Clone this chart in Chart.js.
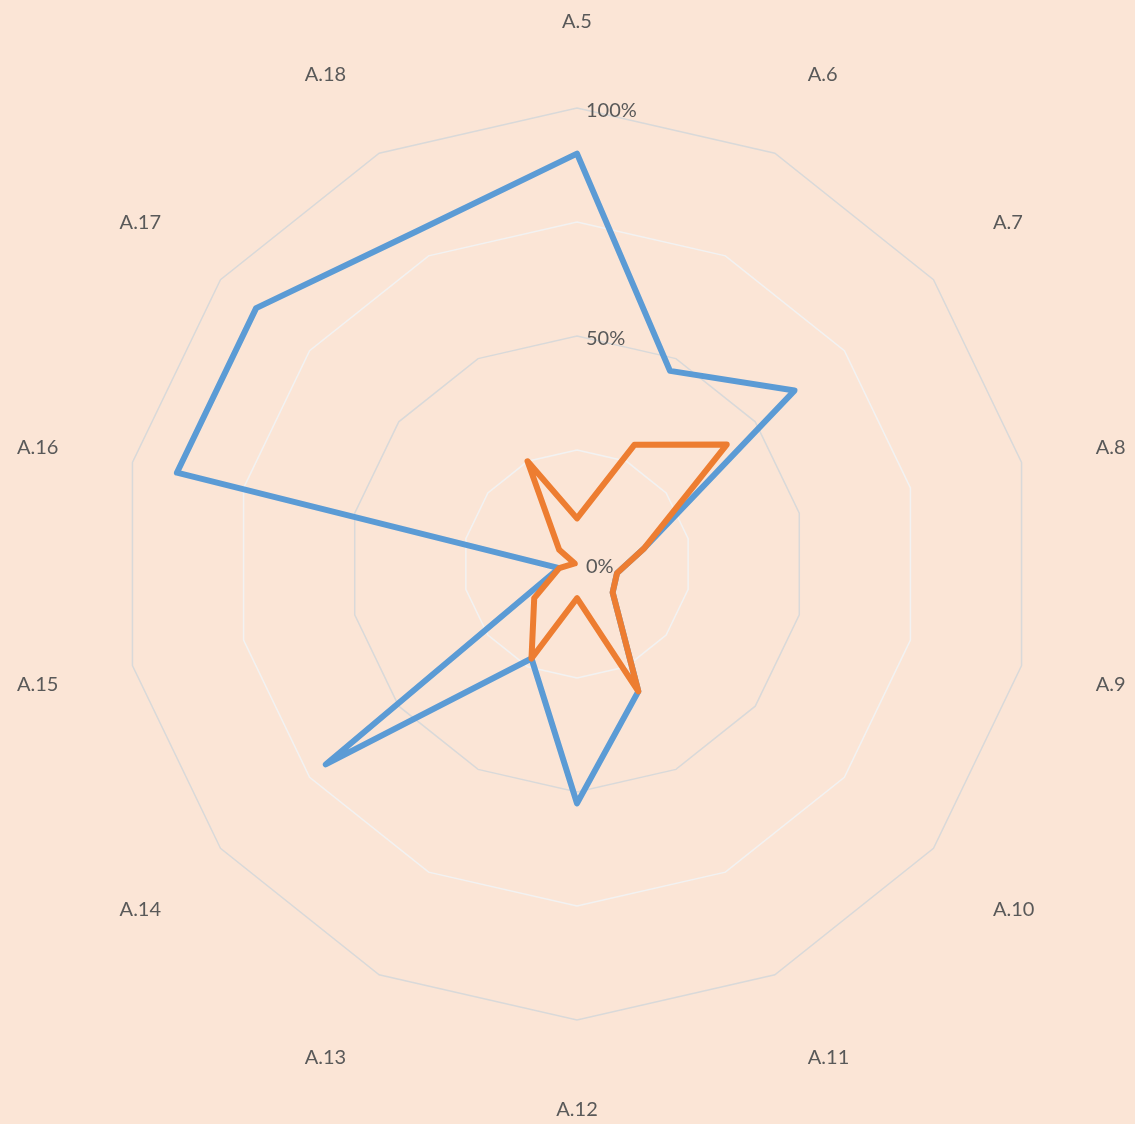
<!DOCTYPE html>
<html lang="en">

<head>
    <meta charset="UTF-8">
    <title>A.5 - A.18 radar</title>
    <script src="https://cdn.jsdelivr.net/npm/chart.js"></script>
    <style>
        * {
            margin: 0;
            padding: 0;
            box-sizing: border-box;
        }

        body {
            background: #FBE5D6;
            overflow: hidden;
        }

        canvas {
            display: block;
        }
    </style>
</head>

<body>

    <canvas id="radar" width="1135" height="1124"></canvas>

    <script>
        // values in percent
        const categories = ['A.5', 'A.6', 'A.7', 'A.8', 'A.9', 'A.10', 'A.11', 'A.12', 'A.13', 'A.14', 'A.15', 'A.16', 'A.17', 'A.18'];
        const blueValues = [90, 47, 61, 15, 9, 10, 31, 52.5, 23, 70.5, 4, 90, 90, 81];
        const orangeValues = [10, 29, 42, 15, 9, 10, 31, 7.5, 23, 12, 4, 0.5, 5, 25];
        const labelledTicks = [0, 50, 100];

        const textColor = '#595959';
        const labelFont = '20px Lato';

        // Excel-style labels: values right of the axis, category names outside the rings
        const excelLabels = {
            id: 'excelLabels',
            afterDatasetsDraw(chart) {
                const r = chart.scales.r;
                const ctx = chart.ctx;
                ctx.save();
                ctx.font = labelFont;
                ctx.fillStyle = textColor;
                ctx.textBaseline = 'middle';

                ctx.textAlign = 'left';
                labelledTicks.forEach(v => {
                    ctx.fillText(v + '%', r.xCenter + 9, r.yCenter - r.getDistanceFromCenterForValue(v) + 3);
                });

                // label box sits just outside the point, pushed away by half its size
                ctx.textAlign = 'center';
                categories.forEach((name, i) => {
                    const p = r.getPointPosition(i, r.drawingArea + 76);
                    const w = ctx.measureText(name).width;
                    const cx = Math.cos(p.angle), sy = Math.sin(p.angle);
                    const dx = Math.abs(cx) < 1e-6 ? 0 : Math.sign(cx) * w / 2;
                    const dy = Math.abs(sy) < 0.5 ? 0 : Math.sign(sy) * 12;
                    ctx.fillText(name, p.x + dx, p.y + dy + 2);
                });
                ctx.restore();
            }
        };

        new Chart(document.getElementById('radar'), {
            type: 'radar',
            data: {
                labels: categories,
                datasets: [
                    {
                        label: 'Series 1', data: blueValues, borderColor: '#5B9BD5', borderWidth: 6,
                        borderJoinStyle: 'round', borderCapStyle: 'round', fill: false, order: 1
                    },
                    {
                        label: 'Series 2', data: orangeValues, borderColor: '#ED7D31', borderWidth: 6,
                        borderJoinStyle: 'round', borderCapStyle: 'round', fill: false, order: 0
                    }
                ]
            },
            options: {
                responsive: false,
                animation: false,
                devicePixelRatio: 1,
                layout: { padding: { left: 60, right: 41, top: 108, bottom: 104 } },
                elements: { point: { radius: 0, hoverRadius: 0 }, line: { tension: 0 } },
                plugins: { legend: { display: false }, tooltip: { enabled: false } },
                scales: {
                    r: {
                        min: 0,
                        max: 100,
                        ticks: { display: false, stepSize: 25 },
                        pointLabels: { display: false },
                        angleLines: { display: false },
                        grid: {
                            circular: false,
                            lineWidth: 1.5,
                            color: c => c.tick.value % 50 === 0 ? '#D9D9D9' : '#F2F2F2'
                        }
                    }
                }
            },
            plugins: [excelLabels]
        });
    </script>

</body>

</html>
